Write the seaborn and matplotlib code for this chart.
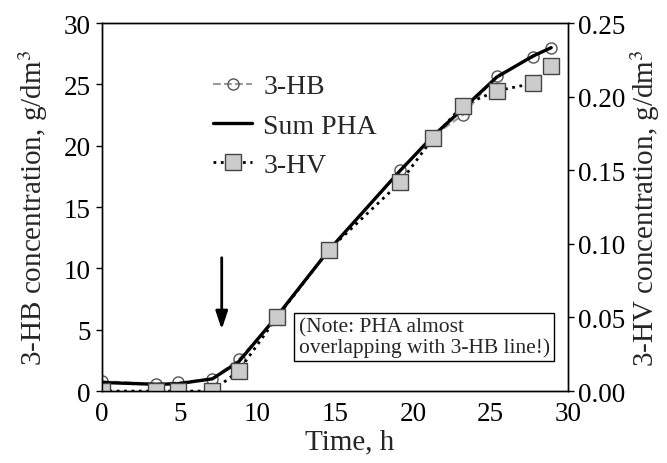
import matplotlib
matplotlib.use("Agg")
import matplotlib.pyplot as plt
import seaborn as sns
import numpy as np
from matplotlib.lines import Line2D

sns.set_theme(style="white")
plt.rcParams['font.family'] = ['Liberation Serif', 'DejaVu Serif']
plt.rcParams['mathtext.fontset'] = 'stix'

# time points, h
time_h = [0, 3.5, 4.9, 7.1, 8.8, 11.25, 14.6, 19.2, 21.3, 23.2, 25.4, 27.7, 28.9]
# 3-HB concentration, g/dm3 (left axis)
hb = [0.8, 0.6, 0.7, 1.0, 2.6, 6.0, 11.5, 18.0, 20.8, 22.5, 25.7, 27.2, 28.0]
# Sum PHA, g/dm3 (left axis)
sum_pha = [0.7, 0.55, 0.6, 1.0, 2.4, 6.1, 11.5, 18.0, 20.8, 23.0, 25.6, 27.3, 28.0]
# 3-HV concentration, g/dm3 (right axis)
hv = [0.0, 0.0, 0.0, 0.0, 0.0138, 0.050, 0.096, 0.142, 0.172, 0.194, 0.204, 0.209, 0.221]

xticks = [0, 5, 10, 15, 20, 25, 30]
yticks_left = [0, 5, 10, 15, 20, 25, 30]
yticks_right = [0.00, 0.05, 0.10, 0.15, 0.20, 0.25]

fig = plt.figure(figsize=(6.67, 4.64), dpi=100)
ax = fig.add_axes([0.153, 0.155, 0.699, 0.793])
ax2 = ax.twinx()

sns.lineplot(x=time_h, y=hb, ax=ax, color='#999999', linestyle='--', lw=1.5,
             marker='o', markersize=8, markerfacecolor='none',
             markeredgecolor='#555555', markeredgewidth=1.0, sort=False)
sns.lineplot(x=time_h, y=sum_pha, ax=ax, color='black', lw=2.4, sort=False)
sns.lineplot(x=time_h, y=hv, ax=ax2, color='black', linestyle=':', lw=2,
             marker='s', markersize=12, markerfacecolor='#cccccc',
             markeredgecolor='#444444', markeredgewidth=1.0, sort=False)

ax.set_xlim(0, 30)
ax.set_ylim(0, 30)
ax2.set_ylim(0, 0.25)
ax.set_xticks(xticks)
ax.set_yticks(yticks_left)
ax2.set_yticks(yticks_right)
ax2.set_yticklabels([f"{v:.2f}" for v in yticks_right])

for a in (ax, ax2):
    a.tick_params(labelsize=19.5, length=4, width=1, direction='out', pad=4, colors='black')
    for s in a.spines.values():
        s.set_color('black')
        s.set_linewidth(1)
ax.tick_params(axis='x', pad=3)
ax2.tick_params(axis='y', pad=3)

ax.set_xlabel('Time, h', fontsize=21)
ax.xaxis.set_label_coords(0.532, -0.1)
ax.set_ylabel('3-HB concentration, g/dm$^3$', fontsize=21, labelpad=10)
ax2.set_ylabel('3-HV concentration, g/dm$^3$', fontsize=21, labelpad=2)

# arrow marking the feeding time
ax2.annotate('', xy=(7.7, 4.8 / 120), xytext=(7.7, 11.1 / 120),
             arrowprops=dict(arrowstyle='-|>,head_length=0.9,head_width=0.3',
                             color='black', lw=2))

ax2.text(12.65, 4.4 / 120, '(Note: PHA almost\noverlapping with 3-HB line!)',
         fontsize=15.5, ha='left', va='center', linespacing=1.05,
         bbox=dict(boxstyle='square,pad=0.2', fc='white', ec='black', lw=1))

handles = [
    Line2D([], [], color='#999999', linestyle='--', lw=1.5, marker='o', markersize=8,
           markerfacecolor='none', markeredgecolor='#555555'),
    Line2D([], [], color='black', lw=2.4),
    Line2D([], [], color='black', linestyle=':', lw=2, marker='s', markersize=12,
           markerfacecolor='#cccccc', markeredgecolor='#444444'),
]
ax2.legend(handles, ['3-HB', 'Sum PHA', '3-HV'], loc='upper left',
           bbox_to_anchor=(0.185, 0.93), frameon=False, fontsize=20,
           handlelength=1.4, handletextpad=0.4, labelspacing=0.5)
if ax.get_legend():
    ax.get_legend().remove()

fig.savefig('out.png', dpi=100)
